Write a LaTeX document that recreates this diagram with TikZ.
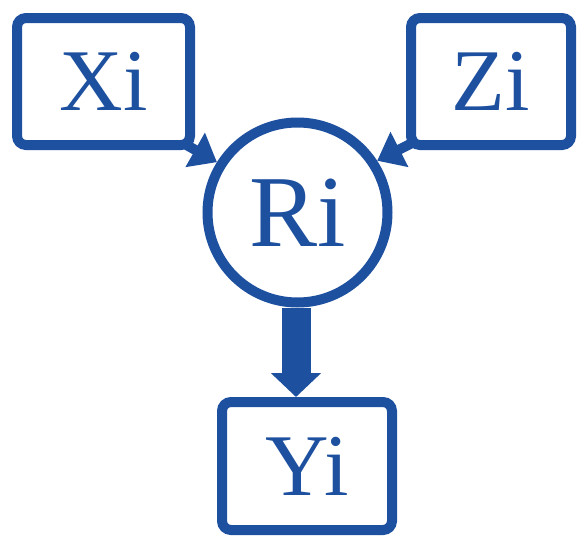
\documentclass[tikz,border=0pt]{standalone}
\usepackage{fontspec}
\setmainfont{Liberation Serif}
\usetikzlibrary{arrows.meta}
\definecolor{dblue}{RGB}{30,80,160}
\tikzset{
  box/.style={draw=dblue, line width=10pt, rounded corners=9pt, inner sep=0pt,
    text=dblue, font=\fontsize{88}{88}\selectfont},
  circ/.style={draw=dblue, line width=10pt, circle, inner sep=0pt, minimum size=180pt,
    text=dblue, font=\fontsize{102}{102}\selectfont},
  thinarr/.style={draw=dblue, line width=10pt, -{Triangle[width=38pt,length=25pt]}, fill=dblue},
  bigarr/.style={draw=dblue, line width=29pt, -{Triangle[width=49pt,length=24pt]}, fill=dblue},
}
\begin{document}
\begin{tikzpicture}[x=1pt,y=-1pt]
\useasboundingbox (0,0) rectangle (579,536);
\node[box, minimum width=173pt, minimum height=127pt] (Xi) at (103.5,81.5) {Xi};
\node[box, minimum width=160pt, minimum height=127pt] (Zi) at (491,81.5) {Zi};
\node[box, minimum width=170pt, minimum height=128pt] (Yi) at (307,466) {Yi};
\node[circ] (Ri) at (297.5,212.5) {Ri};
\draw[thinarr] ([shift={(-12,-7)}]Xi.south east) -- (Ri.148);
\draw[thinarr] ([shift={(12,-10)}]Zi.south west) -- (Ri.33);
\draw[bigarr] ([xshift=-1.5pt]Ri.south) -- ([xshift=-1.5pt]Ri.south |- Yi.north);
\end{tikzpicture}
\end{document}
